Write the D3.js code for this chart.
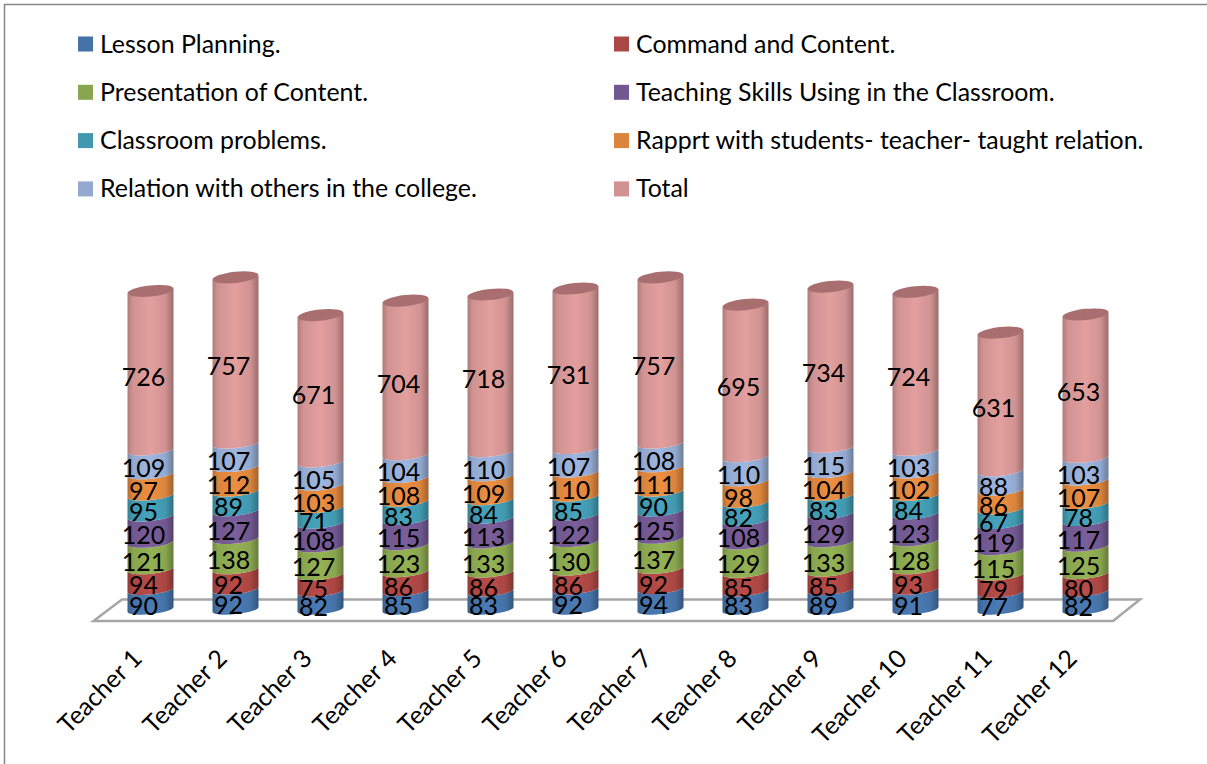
<!DOCTYPE html>
<html><head><meta charset="utf-8">
<script src="https://cdnjs.cloudflare.com/ajax/libs/d3/7.8.5/d3.min.js"></script>
<style>html,body{margin:0;padding:0;background:#fff}svg{display:block}text{font-family:Lato,"Open Sans",sans-serif;fill:#000}</style>
</head><body><svg id="c" width="1207" height="764"></svg>
<script>
const teachers = ["Teacher 1","Teacher 2","Teacher 3","Teacher 4","Teacher 5","Teacher 6","Teacher 7","Teacher 8","Teacher 9","Teacher 10","Teacher 11","Teacher 12"];
const seriesNames = ["Lesson Planning.","Command and Content.","Presentation of Content.","Teaching Skills Using in the Classroom.","Classroom problems.","Rapprt with students- teacher- taught relation.","Relation with others in the college.","Total"];
const seriesColors = ["#4572a7","#aa4643","#89a54e","#71588f","#4198af","#db843d","#93a9cf","#d19392"];
const lessonPlanning = [90,92,82,85,83,92,94,83,89,91,77,82];
const commandContent = [94,92,75,86,86,86,92,85,85,93,79,80];
const presentation = [121,138,127,123,133,130,137,129,133,128,115,125];
const teachingSkills = [120,127,108,115,113,122,125,108,129,123,119,117];
const classroomProblems = [95,89,71,83,84,85,90,82,83,84,67,78];
const rapport = [97,112,103,108,109,110,111,98,104,102,86,107];
const relationOthers = [109,107,105,104,110,107,108,110,115,103,88,103];
const total = [726,757,671,704,718,731,757,695,734,724,631,653];
const seriesValues = [lessonPlanning,commandContent,presentation,teachingSkills,classroomProblems,rapport,relationOthers,total];

const svg = d3.select("#c");
const x = d3.scaleBand().domain(teachers).range([108,1128]).paddingInner(0).paddingOuter(0);
const y = d3.scaleLinear().domain([0,1600]).range([609.5,258.5]);
const barW = 46, r = barW/2, tilt = 2.4, ry = 4.6, capRy = 5.6;
const angle = -Math.atan2(tilt,r)*180/Math.PI, rx = Math.hypot(r,tilt);

// outer frame
svg.append("path").attr("d","M4.5,764V4.5H1207").attr("fill","none").attr("stroke","#868686").attr("stroke-width",1.5);

// floor
const fl = d3.line();
svg.append("path").attr("d",fl([[93.5,621],[1113,621],[1140,599.5],[122,599.5]])+"Z")
  .attr("fill","#fff").attr("stroke","#a6a6a6").attr("stroke-width",2.5);

// gradients
const defs = svg.append("defs");
seriesColors.forEach((c,i)=>{
  const base = d3.rgb(c);
  const g = defs.append("linearGradient").attr("id","g"+i).attr("x1",0).attr("x2",1).attr("y1",0).attr("y2",0);
  [[0,base.darker(0.5)],[0.12,base],[0.5,base.brighter(0.22)],[0.82,base],[1,base.darker(0.85)]].forEach(s=>
    g.append("stop").attr("offset",s[0]).attr("stop-color",s[1].formatHex()));
});

const stack = d3.stack().keys(d3.range(8)).value((d,k)=>seriesValues[k][d]);
const layers = stack(d3.range(12));
const cx = i => x(teachers[i]) + x.bandwidth()/2;

function band(xc,y0,y1){
  return `M${xc-r},${y0+tilt}A${rx},${ry} ${angle} 0 0 ${xc+r},${y0-tilt}L${xc+r},${y1-tilt}A${rx},${ry} ${angle} 0 1 ${xc-r},${y1+tilt}Z`;
}
const bars = svg.append("g");
layers.forEach((layer,s)=>{
  bars.append("g").selectAll("path").data(layer).join("path")
    .attr("d",(d,i)=>band(cx(i),y(d[0]),y(d[1])))
    .attr("fill",`url(#g${s})`);
});
// top caps
bars.append("g").selectAll("ellipse").data(layers[7]).join("ellipse")
  .attr("cx",(d,i)=>cx(i)).attr("cy",d=>y(d[1])).attr("rx",rx).attr("ry",capRy)
  .attr("transform",(d,i)=>`rotate(${angle} ${cx(i)} ${y(d[1])})`)
  .attr("fill","#a96f70");

// data labels
const labels = svg.append("g").attr("font-size",25).attr("text-anchor","middle");
layers.forEach((layer,s)=>{
  labels.append("g").selectAll("text").data(layer).join("text")
    .attr("x",(d,i)=>cx(i)-7)
    .attr("y",d=>(y(d[0])+y(d[1]))/2+15)
    .text((d,i)=>seriesValues[s][i]);
});

// axis
const axis = svg.append("g").attr("transform","translate(0,640)").call(d3.axisBottom(x).tickSize(0));
axis.select(".domain").remove();
axis.selectAll("text").attr("font-size",25).attr("font-family","Lato")
  .attr("text-anchor","end").attr("dy",0).attr("y",0)
  .attr("transform","translate(-7,20) rotate(-45)");

// legend
const legend = svg.append("g");
seriesNames.forEach((n,i)=>{
  const col = i%2, row = Math.floor(i/2);
  const lx = col ? 614 : 78, ly = 44+row*48.3;
  legend.append("rect").attr("x",lx).attr("y",ly-7.5).attr("width",15).attr("height",15).attr("fill",seriesColors[i]);
  legend.append("text").attr("x",lx+22).attr("y",ly+8.5).attr("font-size",24.9).text(n);
});
</script></body></html>
